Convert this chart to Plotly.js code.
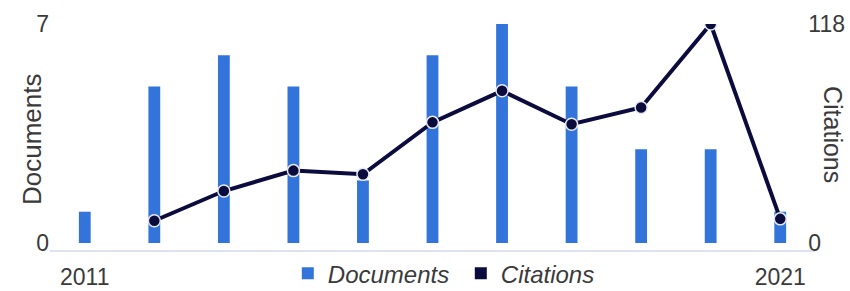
<!DOCTYPE html>
<html>
<head>
<meta charset="utf-8">
<script src="https://cdn.plot.ly/plotly-3.0.1.min.js"></script>
<style>html,body{margin:0;padding:0;background:#fff;}#chart{width:850px;height:291px;}</style>
</head>
<body>
<div id="chart"></div>
<script>
const years = [2011, 2012, 2013, 2014, 2015, 2016, 2017, 2018, 2019, 2020, 2021];
const documents = [1, 5, 6, 5, 2, 6, 7, 5, 3, 3, 1];
const citations = [null, 12, 28, 39, 37, 65, 82, 64, 73, 118, 13];
const docTicks = [0, 7];
const citTicks = [0, 118];
const xTicks = [2011, 2021];

const blue = '#3374db';
const navy = '#0b0b3d';
const txt = '#3a3a3a';
const fam = '"Liberation Sans", Arial, sans-serif';

const docMax = 7, citMax = 118, pad = 0.224;

const traces = [
  {
    type: 'bar', x: years, y: documents, name: '<i>Documents</i>',
    marker: {color: blue}, width: 0.17, yaxis: 'y', hoverinfo: 'x+y'
  },
  {
    type: 'scatter', mode: 'lines+markers', x: years, y: citations, name: 'Citations',
    yaxis: 'y2', showlegend: false, connectgaps: false,
    line: {color: navy, width: 4},
    marker: {color: navy, size: 12, line: {color: '#e6e8f2', width: 1.5}}
  },
  {
    type: 'scatter', mode: 'markers', x: [null], y: [null], name: '<i>Citations</i>',
    yaxis: 'y2', marker: {color: navy, symbol: 'square', size: 12}
  }
];

const layout = {
  width: 850, height: 291,
  margin: {l: 50, r: 35, t: 24, b: 41, autoexpand: false},
  paper_bgcolor: '#fff', plot_bgcolor: '#fff',
  barmode: 'overlay',
  font: {family: fam, color: txt, size: 22},
  xaxis: {
    range: [2010.5, 2021.5], tickvals: xTicks, ticktext: xTicks.map(String),
    showgrid: false, zeroline: false, showline: true, linecolor: '#dde4f0', linewidth: 2,
    ticks: 'outside', ticklen: 5, tickcolor: 'rgba(0,0,0,0)',
    tickfont: {family: fam, size: 23, color: txt}
  },
  yaxis: {
    range: [-pad, docMax], tickvals: docTicks, ticktext: docTicks.map(String),
    showgrid: false, zeroline: false, showline: false, ticks: '',
    tickfont: {family: fam, size: 23, color: txt}
  },
  yaxis2: {
    range: [-pad * citMax / docMax, citMax], tickvals: citTicks, ticktext: citTicks.map(String),
    overlaying: 'y', side: 'right', anchor: 'free', position: 0.99,
    showgrid: false, zeroline: false, showline: false, ticks: '',
    tickfont: {family: fam, size: 23, color: txt}
  },
  legend: {
    orientation: 'h', x: 0.537, xanchor: 'center', y: -0.005, yanchor: 'top',
    entrywidth: 128, entrywidthmode: 'pixels',
    font: {family: fam, size: 24, color: txt}, bgcolor: 'rgba(0,0,0,0)'
  },
  annotations: [
    {
      text: 'Documents', textangle: -90, xref: 'paper', yref: 'paper',
      x: 0, xanchor: 'center', xshift: -18, y: 0.5, yshift: -2, yanchor: 'middle', showarrow: false,
      font: {family: fam, size: 26, color: txt}
    },
    {
      text: 'Citations', textangle: 90, xref: 'paper', yref: 'paper',
      x: 1.0, xanchor: 'left', xshift: 2, y: 0.5, yshift: 3, yanchor: 'middle', showarrow: false,
      font: {family: fam, size: 25, color: txt}
    }
  ]
};

Plotly.newPlot('chart', traces, layout, {displayModeBar: false, staticPlot: true});
</script>
</body>
</html>
